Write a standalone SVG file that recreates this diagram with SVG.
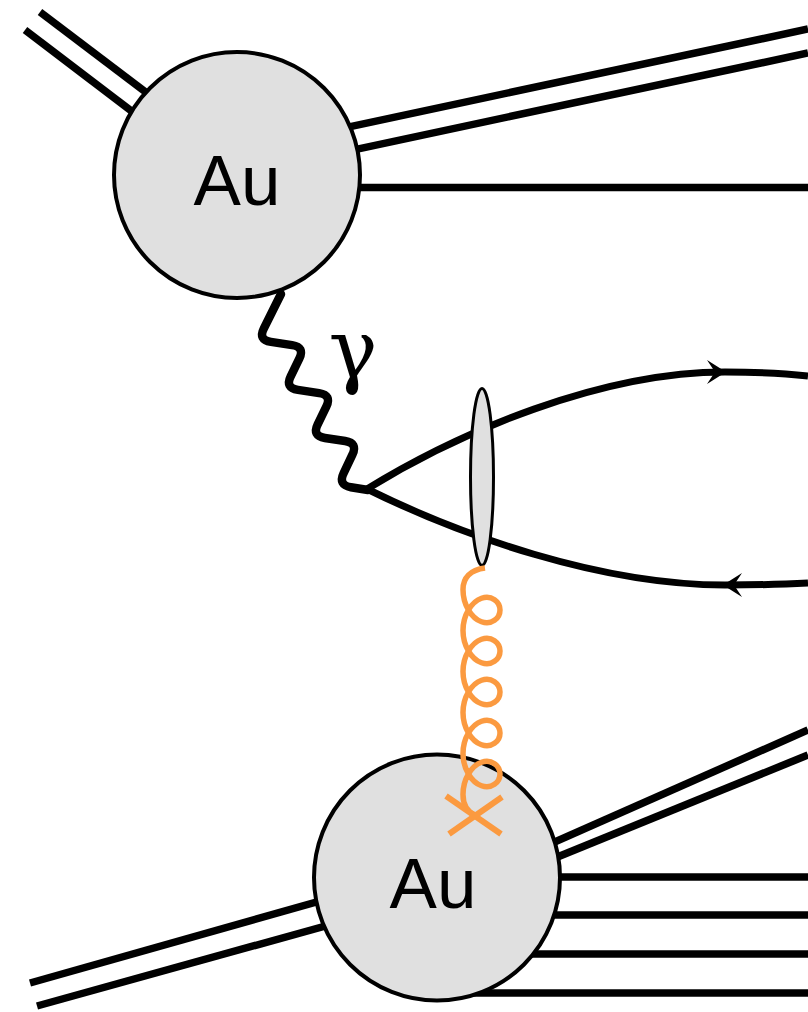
<svg xmlns="http://www.w3.org/2000/svg" width="808" height="1012" viewBox="0 0 808 1012">
<style>
.ln{fill:none;stroke:#000;stroke-width:7.5}
.q{fill:none;stroke:#000;stroke-width:7}
.blob{fill:#e0e0e0;stroke:#000;stroke-width:4}
.lbl{font-family:"Liberation Sans",Arial,sans-serif;font-size:71px;fill:#000;text-anchor:middle}
.gl{fill:none;stroke:#fb9a40;stroke-width:5.5}
</style>
<defs>
<path id="ah" d="M0,0 L-19,-12 L-11,0 L-19,12 Z" fill="#000"/>
</defs>
<rect width="808" height="1012" fill="#fff"/>
<g id="connectors">
  <line class="ln" x1="40" y1="12" x2="200" y2="133.3"/>
  <line class="ln" x1="25" y1="30" x2="180" y2="148"/>
  <line class="ln" x1="300" y1="137.3" x2="808" y2="29"/>
  <line class="ln" x1="300" y1="161.3" x2="808" y2="53"/>
  <line class="ln" x1="237" y1="187.5" x2="808" y2="187.5"/>
  <line class="ln" x1="30" y1="983" x2="437" y2="868"/>
  <line class="ln" x1="37" y1="1006" x2="437" y2="895"/>
  <line class="ln" x1="437" y1="894" x2="808" y2="730"/>
  <line class="ln" x1="437" y1="906" x2="808" y2="755"/>
  <line class="ln" x1="437" y1="877" x2="808" y2="877"/>
  <line class="ln" x1="437" y1="915" x2="808" y2="915"/>
  <line class="ln" x1="437" y1="954" x2="808" y2="954"/>
  <line class="ln" x1="437" y1="993" x2="808" y2="993"/>
  <path fill="none" stroke="#000" stroke-width="8.5" stroke-linejoin="round" stroke-linecap="round" d="M281,294 L263.9,328.4 Q258,340 270.9,341.9 L292.1,345.1 Q305,347 299.3,358.7 L290.7,376.3 Q285,388 297.9,389.9 L319.1,393.1 Q332,395 326.3,406.7 L317.7,424.3 Q312,436 324.9,438 L345.1,441 Q358,443 352.4,454.7 L343.6,473.3 Q338,485 350.9,487.2 L368,490"/>
  <path class="q" d="M367,489 C460,432 600,372 725,372 C760,372 790,374 808,376"/>
  <path class="q" d="M367,489 C460,535 600,585 725,585 C760,585 790,584 808,583"/>
  <use href="#ah" transform="translate(726,372)"/>
  <use href="#ah" transform="translate(723,585) rotate(180)"/>
</g>
<g id="node-au-top">
  <circle class="blob" cx="237" cy="175" r="123"/>
  <text class="lbl" x="237" y="205">Au</text>
</g>
<g id="node-au-bottom">
  <circle class="blob" cx="437" cy="877.5" r="123"/>
  <text class="lbl" x="433" y="908">Au</text>
</g>
<g id="node-vertex">
  <ellipse cx="482" cy="477" rx="11.5" ry="88.5" fill="#e0e0e0" stroke="#000" stroke-width="3"/>
</g>
<g id="gluon">
  <path class="gl" d="M485,568 C470,570 463,578 463,589.5
  C463,604.9 471.5,618.21 481.5,621.74 C491.5,625.27 500,618.35 500,610 C500,601.65 491.5,594.73 481.5,598.26 C471.5,601.79 463,615.1 463,630.51
  C463,645.9 471.5,659.21 481.5,662.74 C491.5,666.27 500,659.35 500,651 C500,642.65 491.5,635.73 481.5,639.26 C471.5,642.79 463,656.1 463,671.51
  C463,686.9 471.5,700.21 481.5,703.74 C491.5,707.27 500,700.35 500,692 C500,683.65 491.5,676.73 481.5,680.26 C471.5,683.79 463,697.1 463,712.51
  C463,727.9 471.5,741.21 481.5,744.74 C491.5,748.27 500,741.35 500,733 C500,724.65 491.5,717.73 481.5,721.26 C471.5,724.79 463,738.1 463,753.51
  C463,768.9 471.5,782.21 481.5,785.74 C491.5,789.27 500,782.35 500,774 C500,765.65 491.5,758.73 481.5,762.26 C471.5,765.79 463,779.1 463,794.51
  C463,805 468,812 475,815"/>
  <line x1="446" y1="796" x2="501" y2="834" stroke="#fb9a40" stroke-width="6"/>
  <line x1="449" y1="834" x2="502" y2="797" stroke="#fb9a40" stroke-width="6"/>
</g>
<g id="label-gamma">
  <text x="353" y="378" font-family="DejaVu Serif, serif" font-size="82" text-anchor="middle" fill="#000">γ</text>
</g>
</svg>
